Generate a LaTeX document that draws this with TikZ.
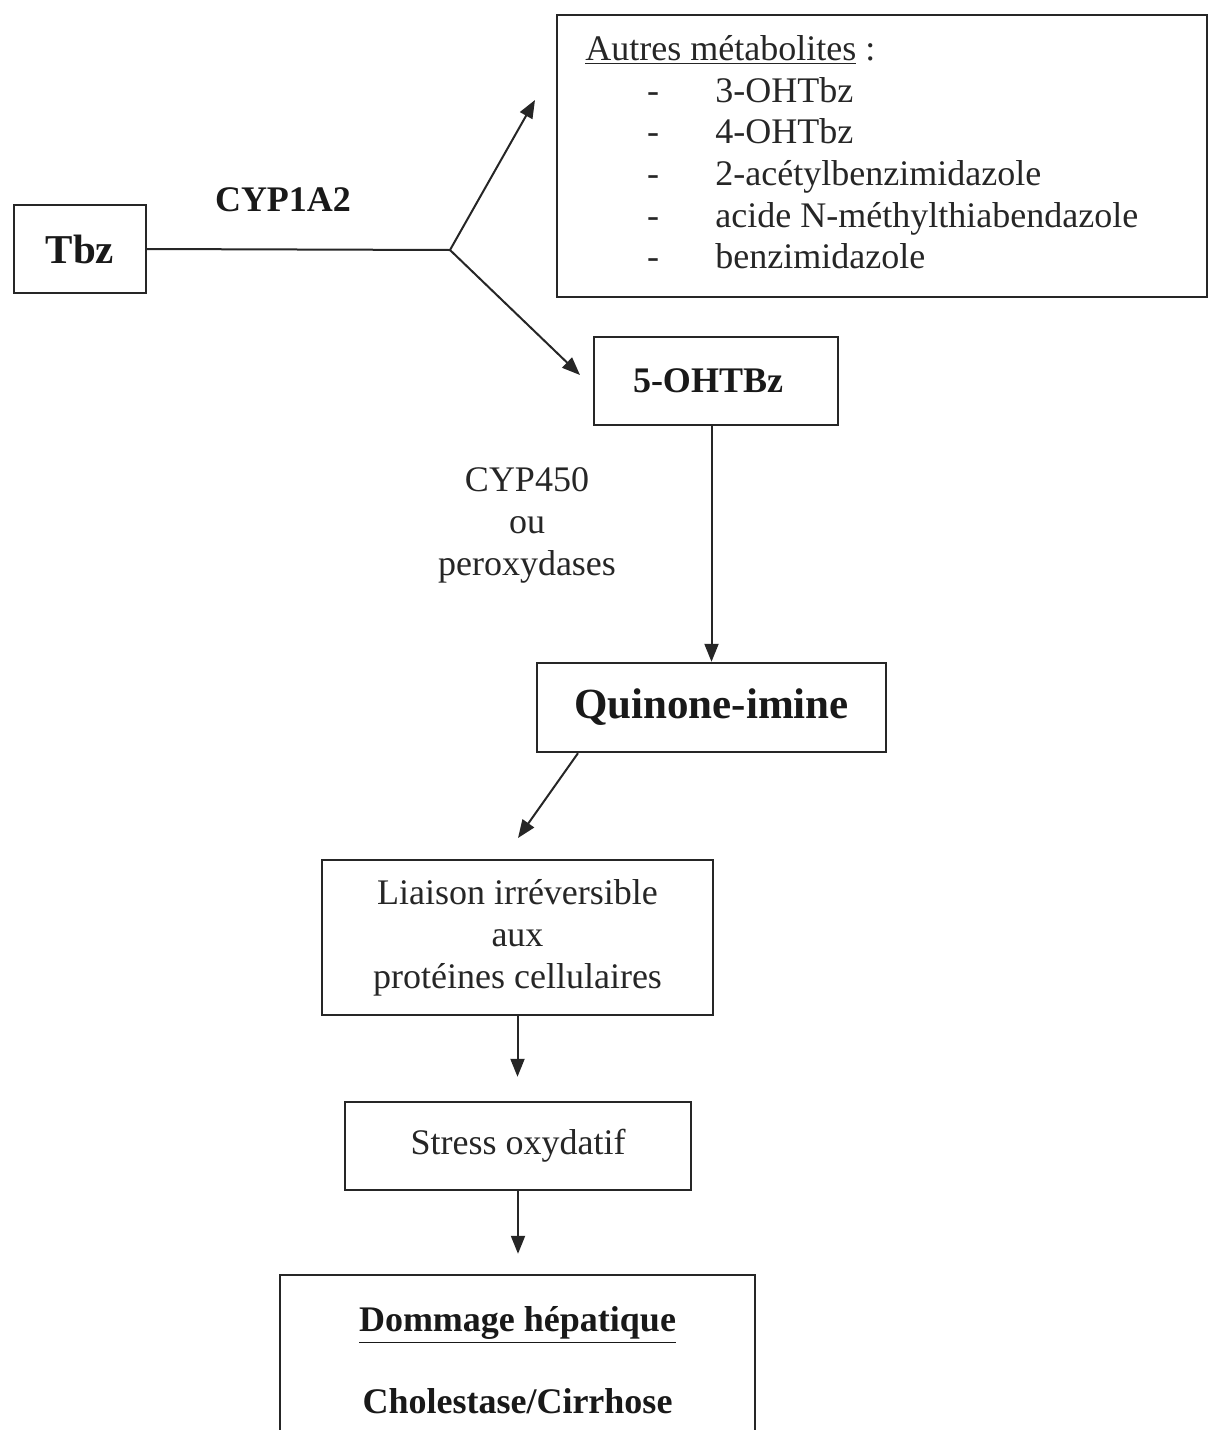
\documentclass[tikz,border=0pt]{standalone}
\usepackage{fontspec}
\setmainfont{Liberation Serif}
\usetikzlibrary{arrows.meta,calc}
\tikzstyle{boite}=[rectangle,draw=black!85,line width=1.2pt,inner sep=0pt]
\tikzstyle{fleche}=[draw=black!85,line width=1pt,-{Triangle[length=9pt,width=7pt]}]
\tikzstyle{txt}=[text=black!85,font=\fontsize{18}{21}\selectfont]
\tikzstyle{gras}=[text=black!90,font=\fontsize{18}{21}\selectfont\bfseries]

\begin{document}
\begin{tikzpicture}[x=0.5pt,y=-0.5pt]
\useasboundingbox (0,0) rectangle (1210,1430);
\clip (0,0) rectangle (1210,1430);
% premiere etape
\node[boite,gras,font=\fontsize{20.5}{24}\selectfont\bfseries,minimum width=66pt,minimum height=44pt] (tbz) at (80,249) {Tbz};
\node[gras] (cyp) at (283,200) {CYP1A2};
\coordinate (fork) at (450,250);
\coordinate (tipA) at (535,100);
\coordinate (tipB) at (580,375);
\draw[draw=black!85,line width=1pt] (tbz.east) -- (fork);
\draw[fleche] (fork) -- (tipA);
\draw[fleche] (fork) -- (tipB);
% autres metabolites
\node[boite,minimum width=325pt,minimum height=141pt] (autres) at (882,156) {};
\node[txt,anchor=base west,inner sep=0pt] (titre) at (585,60) {\underline{Autres métabolites} :};
\foreach \y/\nom in {102/3-OHTbz,143/4-OHTbz,185/2-acétylbenzimidazole,227/acide N-méthylthiabendazole,268/benzimidazole}{
  \node[txt,anchor=base,inner sep=0pt] at (653,\y) {-};
  \node[txt,anchor=base west,inner sep=0pt] at (715,\y) {\nom};
}
% voie du 5-OHTBz
\node[boite,gras,minimum width=122pt,minimum height=44pt] (ohtbz) at (716,381) {5-OHTBz\hspace*{8pt}};
\node[txt,align=center] (cyp450) at (527,525) {CYP450\\ou\\peroxydases};
\node[boite,gras,font=\fontsize{21.5}{25}\selectfont\bfseries,minimum width=174.5pt,minimum height=44.5pt] (quin) at (711.5,707.5) {Quinone-imine};
\draw[fleche] (ohtbz.south -| quin.north) -- (quin.north);
\coordinate (q2l) at (518,838);
\draw[fleche] ($(quin.south west)!0.12!(quin.south east)$) -- (q2l);
\node[boite,txt,align=center,minimum width=195.5pt,minimum height=77.5pt] (liaison) at (517.5,937.5) {Liaison irréversible\\aux\\protéines cellulaires};
\node[boite,txt,minimum width=173pt,minimum height=44pt] (stress) at (518,1146) {Stress oxydatif};
\node[boite,gras,align=center,minimum width=237.5pt,minimum height=85pt] (dommage) at (517.5,1360) {\underline{Dommage hépatique}\\[20pt]Cholestase/Cirrhose};
\draw[fleche,shorten >=12pt] (liaison.south) -- (liaison.south |- stress.north);
\draw[fleche,shorten >=10pt] (stress.south) -- (stress.south |- dommage.north);
\end{tikzpicture}
\end{document}
